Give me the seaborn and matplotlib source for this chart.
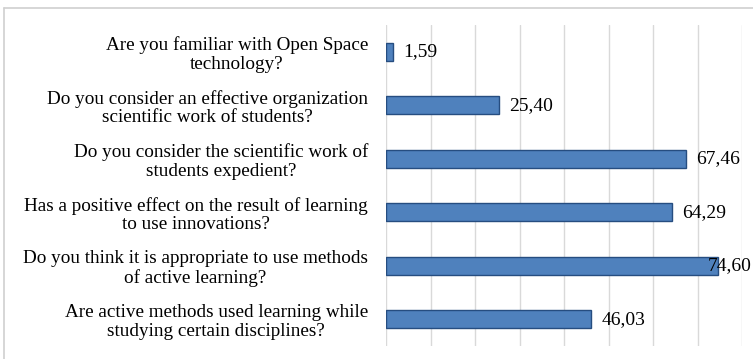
import matplotlib
matplotlib.use("Agg")
import matplotlib.pyplot as plt
import seaborn as sns
import pandas as pd
from matplotlib.lines import Line2D
from matplotlib.transforms import ScaledTranslation

questions = [
    "Are you familiar with Open Space\ntechnology?",
    "Do you consider an effective organization\nscientific work of students?",
    "Do you consider the scientific work of\nstudents expedient?",
    "Has a positive effect on the result of learning\nto use innovations?",
    "Do you think it is appropriate to use methods\nof active learning?",
    "Are active methods used learning while\nstudying certain disciplines?",
]
values = [1.59, 25.40, 67.46, 64.29, 74.60, 46.03]
value_labels = ["1,59", "25,40", "67,46", "64,29", "74,60", "46,03"]

df = pd.DataFrame({"question": questions, "value": values})

sns.set_theme(style="white")
plt.rcParams["font.family"] = ["Liberation Serif", "DejaVu Serif"]

W, H = 753, 359
fig = plt.figure(figsize=(W/100, H/100), dpi=100)
ax = fig.add_axes([386/W, 1-346/H, (742-386)/W, (346-25)/H])

sns.barplot(data=df, x="value", y="question", orient="h", color="#4F81BD",
            edgecolor="#264D80", linewidth=1.0, width=0.34, ax=ax, saturation=1)

ax.set_xlim(0, 80)
ax.set_ylim(5.5, -0.5)
ax.set_xticks(range(0, 81, 10))
ax.xaxis.grid(True, color="#D9D9D9", linewidth=1.0)
ax.set_axisbelow(True)
ax.tick_params(axis="x", labelbottom=False, length=0)
ax.tick_params(axis="y", length=0, pad=13)
for lab in ax.get_yticklabels():
    lab.set_horizontalalignment("center")
    lab.set_multialignment("center")
    lab.set_fontsize(13.8)
    lab.set_linespacing(1.12)
    lab.set_color("black")

fig.canvas.draw()
renderer = fig.canvas.get_renderer()
for lab in ax.get_yticklabels():
    bb = lab.get_window_extent(renderer)
    lab.set_transform(lab.get_transform() + ScaledTranslation(-(bb.width/2)/100, 0, fig.dpi_scale_trans))

for s in ax.spines.values():
    s.set_visible(False)
ax.set_xlabel("")
ax.set_ylabel("")

fig_right_px = W - 1
for i, (v, t) in enumerate(zip(values, value_labels)):
    txt = ax.annotate(t, xy=(v, i), xytext=(7.5, 0), textcoords="offset points",
                      va="center", ha="left", fontsize=14, color="black")
    fig.canvas.draw()
    bb = txt.get_window_extent(renderer)
    if bb.x1 > fig_right_px:
        txt.set_position((7.5 - (bb.x1 - fig_right_px) * 72 / 100, 0))

fig.add_artist(Line2D([4/W, 4/W], [0, 1 - 8/H], transform=fig.transFigure, color="#D0D0D0", linewidth=1.2))
fig.add_artist(Line2D([4/W, 1], [1 - 8/H, 1 - 8/H], transform=fig.transFigure, color="#D0D0D0", linewidth=1.2))

fig.savefig("out.png", dpi=100, facecolor="white")
